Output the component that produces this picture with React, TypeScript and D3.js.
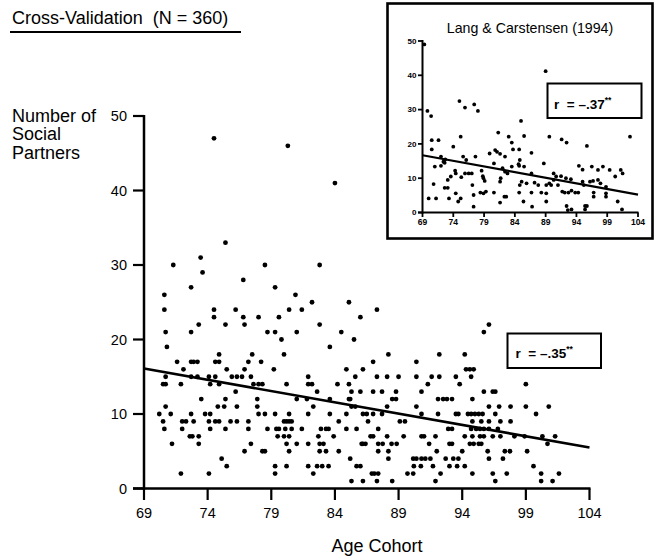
import React from "react";
import * as d3 from "d3";

// ---------- data ----------
const xTicks = [69, 74, 79, 84, 89, 94, 99, 104];
const yTicks = [0, 10, 20, 30, 40, 50];

// main chart: sparse points (age cohort, number of social partners)
const mainSparse: [number, number][] = [
  [74.5, 47], [80.3, 46], [84.0, 41], [75.4, 33], [73.45, 31],
  [71.3, 30], [73.6, 29], [78.5, 30], [82.8, 30], [72.7, 27], [76.8, 28], [79.3, 27],
  [70.6, 26], [80.9, 26], [70.6, 24], [74.5, 24], [82.2, 25], [85.1, 25], [76.2, 24],
  [80.4, 24], [81.4, 24], [87.3, 24], [74.5, 23], [76.8, 23], [78.0, 23], [79.6, 23],
  [86.0, 23], [73.3, 22], [75.4, 22], [76.9, 22], [82.8, 22], [70.7, 21], [72.7, 21],
  [78.7, 21], [79.3, 21], [81.0, 21], [84.5, 21], [79.8, 20], [85.5, 20], [70.8, 19],
  [83.6, 19], [74.9, 18], [77.5, 18], [80.0, 18],
  [96.1, 22], [95.7, 21], [88.2, 18], [92.2, 18], [94.2, 18],
];

// main chart: dense rows, [number of partners, ages]
const mainRows: [number, number[]][] = [
  [17, [71.6, 72.7, 72.9, 73.2, 74.6, 74.9, 77.2, 78.2, 87.0, 90.4]],
  [16, [72.1, 75.5, 76.9, 79.2, 84.9, 86.2, 94.3, 94.6, 94.9]],
  [15, [70.7, 72.7, 73.2, 74.1, 74.6, 75.9, 76.3, 76.7, 77.4, 81.9, 85.6, 87.3, 88.1, 89.0, 90.4, 91.6, 92.2, 93.5, 94.7]],
  [14, [70.5, 70.7, 71.9, 74.2, 74.9, 77.6, 78.0, 78.3, 80.2, 81.9, 82.2, 84.2, 85.1, 91.3, 93.8, 99.0]],
  [13, [76.2, 82.6, 85.3, 86.0, 87.0, 87.7, 88.8, 90.8, 95.7, 96.4, 96.6]],
  [12, [73.5, 75.4, 77.9, 81.0, 81.8, 83.6, 85.1, 85.2, 88.5, 88.8, 92.1, 92.5, 92.8, 93.2, 94.8]],
  [11, [70.7, 74.8, 75.3, 76.3, 77.9, 82.3, 85.3, 85.6, 88.1, 90.4, 96.1, 96.9, 97.8, 99.0, 100.8]],
  [10, [70.2, 71.1, 72.7, 73.8, 74.2, 78.0, 78.5, 79.3, 80.4, 81.9, 83.6, 84.9, 86.2, 86.5, 87.0, 87.7, 90.8, 92.1, 93.5, 93.7, 94.45, 94.7, 95.0, 95.3, 95.6, 96.6, 99.8]],
  [9, [70.5, 72.0, 72.3, 72.9, 74.1, 74.6, 74.9, 75.8, 76.3, 77.2, 80.0, 80.2, 80.4, 80.6, 84.3, 86.6, 89.1, 89.5, 94.8, 95.5, 96.1, 97.0, 97.8]],
  [8, [70.6, 72.0, 74.2, 75.4, 77.2, 78.7, 79.4, 79.6, 80.1, 80.6, 81.4, 82.9, 83.3, 83.5, 84.9, 85.7, 87.4, 92.9, 93.2, 94.7, 95.1, 95.4, 95.7, 96.1, 96.8]],
  [7, [72.6, 72.8, 73.3, 79.5, 80.0, 80.4, 82.7, 83.9, 86.8, 87.0, 88.1, 89.4, 90.8, 91.0, 91.9, 94.2, 94.8, 95.4, 95.7, 96.4, 97.0, 98.1, 98.9, 100.3, 101.3]],
  [6, [71.2, 73.3, 77.4, 80.2, 81.0, 81.9, 82.8, 83.1, 86.1, 86.2, 86.4, 87.4, 87.75, 88.45, 88.85, 91.4, 93.0, 93.2, 94.6, 94.9, 95.3, 95.5, 100.7]],
  [5, [76.9, 78.3, 78.5, 80.4, 82.8, 83.3, 84.3, 87.4, 88.2, 92.0, 94.0, 96.0, 97.35, 97.75, 99.1]],
  [4, [75.1, 85.2, 88.2, 90.15, 90.4, 90.8, 91.1, 91.5, 92.7, 93.3, 93.7, 96.1, 97.2]],
  [3, [75.5, 79.3, 80.2, 81.9, 82.6, 83.0, 83.5, 85.7, 86.0, 90.2, 90.75, 91.7, 93.0, 93.6, 94.2, 99.6]],
  [2, [71.9, 74.1, 79.3, 82.3, 86.9, 87.1, 87.4, 89.7, 90.15, 92.3, 94.8, 96.4, 97.5, 100.2, 101.6]],
  [1, [85.3, 86.2, 87.3, 88.5, 91.9, 96.6, 100.2, 101.1]],
];

// main regression line endpoints (age, partners)
const mainFit: [number, number][] = [[69, 16.1], [104, 5.5]];

// inset (Lang & Carstensen, 1994)
const insetPoints: [number, number][] = [
  [69.3, 49], [69.8, 29.6], [70.4, 28.1], [89, 41.2], [75, 32.5], [75.9, 30.6], [77.4, 31.5], [78, 29.6],
  [75.2, 22.1], [70.5, 21.1], [71.6, 21.1], [70.5, 18.4], [74, 19.2], [80.8, 18.2], [81.3, 23.3], [83, 22.1],
  [83.5, 20.4], [83.7, 18.4], [85, 26.7], [85.5, 22.3], [84.7, 18.4], [84.7, 13.6], [84.8, 15.3], [86.7, 17.4],
  [89.6, 22.1], [91.6, 21.3], [92.4, 20.4], [95.7, 19.4], [102.7, 22.1], [79.9, 17.2], [72, 16.3], [72.4, 14.8],
  [72.7, 15.5], [75.6, 16.3], [76.1, 15.3], [77.6, 16.3], [81.1, 17.7], [81.6, 17.1], [82.4, 16.3], [71, 13.4],
  [72, 13.6], [72.6, 14.5], [74.3, 12.2], [74.4, 11.4], [73.1, 9.5], [73.6, 10.5], [75.3, 10.3], [75.9, 11.4],
  [76.5, 11.4], [77, 11.4], [78.6, 12.2], [78.8, 10.6], [78.9, 10], [79.1, 9.2], [80.6, 14.3], [82, 12.9],
  [82.4, 11.9], [82.8, 11.4], [83.5, 13.4], [84.6, 14.1], [85.5, 13.4], [86.7, 11.4], [88.7, 14.3], [90.3, 11.4],
  [90.7, 10.5], [91.5, 10.6], [92.3, 10], [93.1, 9.7], [94.4, 13.6], [95, 12.5], [96.7, 9.2], [98.3, 13.4],
  [99.4, 12.4], [100.3, 10.5], [101.2, 12.4], [101.5, 11.4], [96.5, 13.4], [97.5, 12.4],
  [70.8, 8.3], [70, 4.1], [71.2, 4.1], [72.6, 7.2], [73.1, 7.2], [73.3, 4.1], [74.4, 5.6], [74.8, 3.2],
  [75.2, 4.1], [77.1, 8], [77.3, 5.1], [77.3, 1.7], [78.4, 5.8], [78.9, 5.6], [79.3, 6.1], [80.6, 5.8],
  [81.6, 9], [81.7, 10], [81.6, 2.9], [82.3, 4.6], [82.6, 4.6], [84.7, 5.8], [84.8, 8], [85.1, 9],
  [85.4, 3.2], [85.9, 8.5], [86.7, 5.8], [87.2, 8.7], [86.8, 1.7], [87.8, 8], [88.3, 5.8], [89.1, 8],
  [89.1, 5.6], [89.1, 3.2], [89.6, 8.5], [89.9, 8], [90.3, 9.5], [91, 8], [91.7, 6.1], [92.1, 5.8],
  [92.7, 5.8], [93.2, 6.4], [93.8, 5.8], [94.3, 5.8], [92.4, 1.9], [92.6, 0.7], [93.2, 0.9], [95, 9],
  [95.2, 8], [95.4, 1.9], [95.7, 1.9], [95.4, 0.9], [96.2, 9], [96.8, 5.8], [96.8, 4.6], [97.5, 9.5],
  [97.9, 8.5], [98.8, 7.5], [98.8, 4.6], [100.7, 3.2], [101.4, 0.9], [98.8, 5.6],
];
const insetFit: [number, number][] = [[69, 16.7], [104, 5.2]];

const titleText = "Cross-Validation\u00a0\u00a0(N = 360)";
const yLabelLines = ["Number of", "Social", "Partners"];
const xLabelText = "Age Cohort";
const insetTitle = "Lang & Carstensen (1994)";
const mainR = "r\u00a0\u00a0= \u2013.35";
const insetR = "r\u00a0\u00a0= \u2013.37";

// ---------- component ----------
const FONT = "'Liberation Sans', Arial, Helvetica, sans-serif";
const NARROW = "'Liberation Sans Narrow', 'Liberation Sans', Arial, sans-serif";

export default function App() {
  const x = d3.scaleLinear().domain([69, 104]).range([144, 589.5]);
  const y = d3.scaleLinear().domain([0, 50]).range([488.5, 116]);
  const ix = d3.scaleLinear().domain([69, 104]).range([422.5, 638]);
  const iy = d3.scaleLinear().domain([0, 50]).range([212.5, 41]);

  const line = d3.line<[number, number]>().x((d) => x(d[0])).y((d) => y(d[1]));
  const iline = d3.line<[number, number]>().x((d) => ix(d[0])).y((d) => iy(d[1]));

  const mainPoints: [number, number][] = [
    ...mainSparse,
    ...mainRows.flatMap(([v, ages]) => ages.map((a) => [a, v] as [number, number])),
  ];

  return (
    <svg
      width={661}
      height={558}
      style={{ position: "absolute", left: 0, top: 0, background: "#fff" }}
      fontFamily={FONT}
    >
      <rect x={0} y={0} width={661} height={558} fill="#fff" />

      {/* title */}
      <text x={12} y={23.5} fontSize={18} fill="#000">{titleText}</text>
      <line x1={10} x2={241} y1={32} y2={32} stroke="#000" strokeWidth={1.8} />

      {/* y label */}
      {yLabelLines.map((t, i) => (
        <text key={t} x={12} y={121.5 + i * 18.5} fontSize={18} fill="#000">{t}</text>
      ))}

      {/* main axes */}
      <line x1={144} x2={144} y1={115} y2={489.5} stroke="#000" strokeWidth={2.5} />
      <line x1={133} x2={590.5} y1={488.5} y2={488.5} stroke="#000" strokeWidth={2.5} />
      {yTicks.map((v) => (
        <g key={"yt" + v}>
          <line x1={133} x2={144} y1={y(v)} y2={y(v)} stroke="#000" strokeWidth={2.2} />
          <text x={127} y={y(v)} dy="0.36em" textAnchor="end" fontSize={14.5} fill="#000">{v}</text>
        </g>
      ))}
      {xTicks.map((v) => (
        <g key={"xt" + v}>
          <line x1={x(v)} x2={x(v)} y1={488.5} y2={500} stroke="#000" strokeWidth={2.2} />
          <text x={x(v)} y={517.5} textAnchor="middle" fontSize={14.5} fill="#000">{v}</text>
        </g>
      ))}
      <text x={377} y={552} textAnchor="middle" fontSize={18} fill="#000">{xLabelText}</text>

      {/* main points */}
      {mainPoints.map((d, i) => (
        <circle key={"m" + i} cx={x(d[0])} cy={y(d[1])} r={2.4} fill="#000" />
      ))}
      <path d={line(mainFit) || ""} stroke="#000" strokeWidth={2.6} fill="none" />

      {/* main r box */}
      <rect x={507.5} y={333.5} width={93.5} height={34.5} fill="#fff" stroke="#000" strokeWidth={2} />
      <text x={515.5} y={357.5} fontSize={13.5} fontWeight="bold" fill="#000">
        {mainR}
        <tspan dy={-5.5} fontSize={8.5}>**</tspan>
      </text>

      {/* inset */}
      <rect x={387.5} y={3.5} width={265} height={235} fill="#fff" stroke="#000" strokeWidth={2.6} />
      <text x={530} y={33} textAnchor="middle" fontSize={14.2} fill="#000">{insetTitle}</text>

      <line x1={422.5} x2={422.5} y1={40} y2={213.5} stroke="#000" strokeWidth={2} />
      <line x1={418} x2={638.5} y1={212.5} y2={212.5} stroke="#000" strokeWidth={2} />
      {yTicks.map((v) => (
        <g key={"iyt" + v}>
          <line x1={418} x2={422.5} y1={iy(v)} y2={iy(v)} stroke="#000" strokeWidth={1.8} />
          <text x={416.5} y={iy(v)} dy="0.36em" textAnchor="end" fontSize={8} fontWeight="bold" fontFamily={NARROW} fill="#000">{v}</text>
        </g>
      ))}
      {xTicks.map((v) => (
        <g key={"ixt" + v}>
          <line x1={ix(v)} x2={ix(v)} y1={212.5} y2={217} stroke="#000" strokeWidth={1.8} />
          <text x={ix(v)} y={225} textAnchor="middle" fontSize={8.5} fontWeight="bold" fontFamily={NARROW} fill="#000">{v}</text>
        </g>
      ))}
      {insetPoints.map((d, i) => (
        <circle key={"i" + i} cx={ix(d[0])} cy={iy(d[1])} r={1.9} fill="#000" />
      ))}
      <path d={iline(insetFit) || ""} stroke="#000" strokeWidth={2.2} fill="none" />

      <rect x={547.5} y={83.5} width={94} height={34.5} fill="#fff" stroke="#000" strokeWidth={2} />
      <text x={554} y={108.5} fontSize={13.5} fontWeight="bold" fill="#000">
        {insetR}
        <tspan dy={-5.5} fontSize={8.5}>**</tspan>
      </text>
    </svg>
  );
}
